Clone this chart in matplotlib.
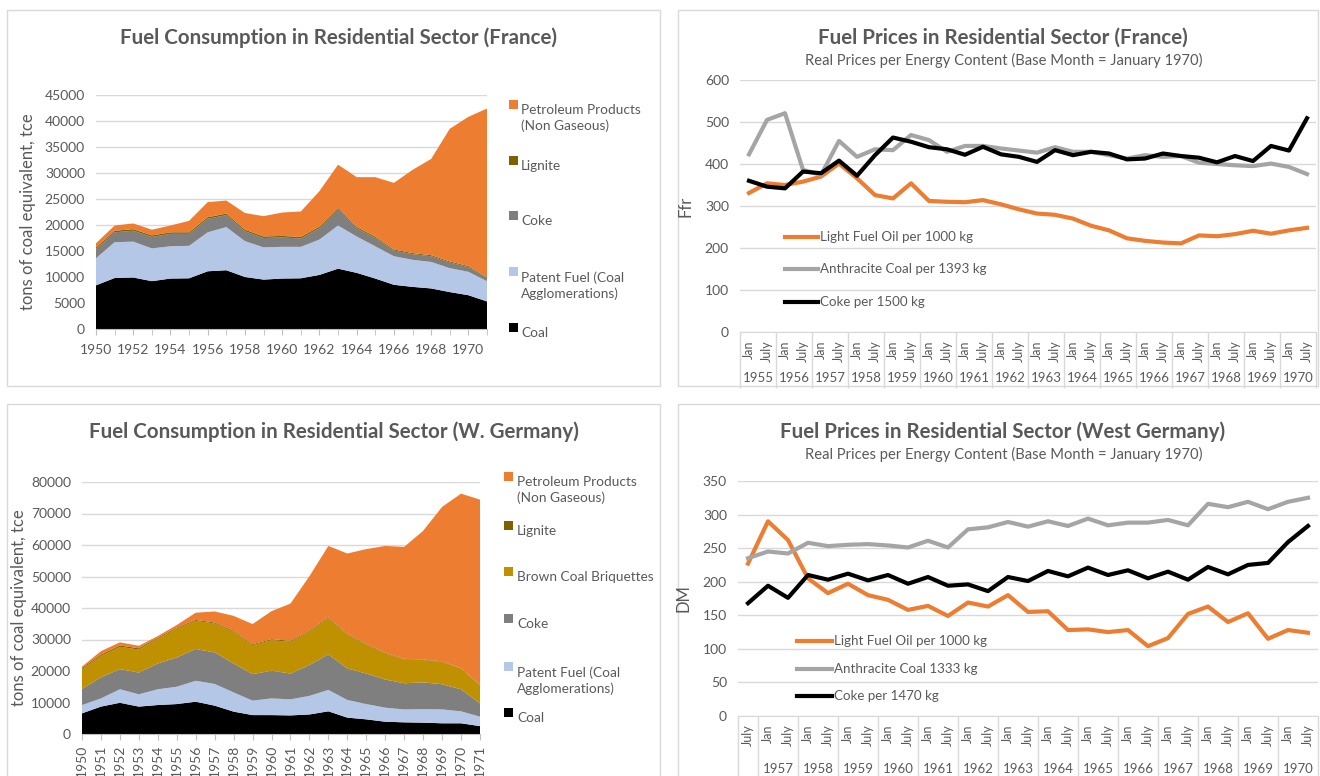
import numpy as np
import matplotlib
matplotlib.use('Agg')
import matplotlib.pyplot as plt
from matplotlib.patches import Rectangle
from matplotlib.lines import Line2D

plt.rcParams['font.family'] = ['Lato', 'DejaVu Sans']

# ---- data: fuel consumption (tce) ----
years = list(range(1950, 1972))

fr_coal = [8400, 9800, 9900, 9200, 9700, 9750, 11100, 11300, 10000, 9500, 9700,
           9750, 10400, 11600, 10800, 9700, 8500, 8100, 7800, 7100, 6500, 5300]
fr_patent = [5200, 6900, 6900, 6300, 6200, 6250, 7500, 8300, 6900, 6200, 6100,
             6050, 6800, 8300, 7000, 6200, 5500, 5200, 5100, 4600, 4500, 3900]
fr_coke = [1800, 1900, 2100, 2200, 2400, 2300, 2600, 2300, 1900, 1800, 1800,
           1600, 2200, 3100, 1600, 1600, 1100, 1100, 1100, 1100, 900, 600]
fr_lignite = [300, 300, 300, 300, 300, 300, 300, 300, 300, 300, 300,
              300, 300, 300, 250, 250, 200, 200, 200, 200, 200, 150]
fr_petrol = [800, 1000, 1100, 1100, 1300, 2200, 2900, 2500, 3200, 3900, 4500,
             4900, 6800, 8300, 9550, 11450, 12800, 16000, 18500, 25500, 28700, 32450]

de_coal = [6550, 8700, 9900, 8700, 9200, 9500, 10250, 9000, 7100, 6000, 6000,
           5900, 6200, 7200, 5200, 4650, 3900, 3700, 3600, 3400, 3400, 2500]
de_patent = [2650, 2600, 4300, 3900, 5000, 5500, 6650, 6900, 6100, 4600, 5300,
             5100, 5900, 6800, 5600, 4850, 4450, 4100, 4300, 4400, 3800, 3000]
de_coke = [5100, 6700, 6400, 6900, 8200, 9300, 10100, 10000, 9200, 8400, 8800,
           8200, 9800, 11300, 10000, 9700, 8950, 8300, 8500, 8000, 7000, 4200]
de_brown = [6300, 6800, 7100, 7300, 7900, 9200, 8900, 9200, 10100, 9200, 9700,
            10100, 10600, 11400, 10800, 9200, 8300, 7600, 7100, 7100, 6600, 5800]
de_lignite = [400, 400, 400, 400, 300, 300, 300, 300, 300, 300, 300,
              300, 300, 300, 200, 200, 200, 150, 150, 150, 100, 100]
de_petrol = [400, 1100, 1000, 800, 500, 800, 2300, 3500, 4700, 6400, 8900,
             11800, 17300, 22700, 25500, 30100, 33900, 35550, 40850, 49050, 55400, 58800]

# ---- data: real prices, semi-annual ----
months = ['Jan', 'July']
fr_price_years = list(range(1955, 1971))
fr_oil = [331, 354, 350, 358, 370, 401, 366, 326, 318, 354, 312, 310, 309, 314, 304, 292,
          282, 279, 270, 253, 242, 223, 217, 213, 211, 230, 228, 233, 241, 234, 242, 248]
fr_anthracite = [423, 505, 521, 386, 374, 455, 417, 435, 433, 469, 457, 429, 443, 443, 437, 432,
                 427, 440, 429, 429, 421, 413, 421, 417, 419, 403, 400, 397, 395, 401, 393, 376]
fr_coke_price = [360, 346, 342, 382, 378, 408, 372, 421, 463, 453, 440, 435, 422, 441, 423, 417,
                 405, 433, 421, 429, 425, 411, 413, 425, 419, 415, 404, 419, 407, 443, 432, 509]

de_price_years = list(range(1957, 1971))
de_oil = [227, 290, 262, 205, 183, 197, 180, 173, 158, 164, 149, 169, 163, 180, 155,
          156, 128, 129, 125, 128, 104, 116, 152, 163, 140, 153, 115, 128, 124]
de_anthracite = [235, 245, 242, 258, 253, 255, 256, 254, 251, 261, 251, 278, 281, 289, 282,
                 290, 283, 294, 284, 288, 288, 292, 284, 316, 311, 319, 308, 319, 325]
de_coke_price = [168, 194, 176, 210, 203, 212, 202, 210, 197, 207, 194, 196, 186, 207, 201,
                 216, 208, 221, 210, 217, 205, 215, 203, 222, 211, 225, 228, 259, 283]

# ---- styling ----
C_COAL = '#000000'
C_PATENT = '#b4c7e7'
C_COKE = '#7f7f7f'
C_LIGNITE = '#7f6000'
C_BROWN = '#bf9000'
C_PETROL = '#ed7d31'
C_ANTH = '#a5a5a5'
TXT = '#595959'
GRID = '#d9d9d9'

W, H = 1320, 776
fig = plt.figure(figsize=(W / 100, H / 100), dpi=100)


def fx(x):
    return x / W


def fy(y):
    return 1 - y / H


def add_axes_px(l, t, r, b):
    return fig.add_axes([fx(l), fy(b), (r - l) / W, (b - t) / H])


def panel(l, t, r, b):
    fig.add_artist(Rectangle((fx(l), fy(b)), (r - l) / W, (b - t) / H,
                             transform=fig.transFigure, facecolor='white',
                             edgecolor=GRID, linewidth=1, zorder=0))


def style_value_axis(ax):
    for s in ['top', 'right', 'left']:
        ax.spines[s].set_visible(False)
    ax.spines['bottom'].set_color(GRID)
    ax.yaxis.grid(True, color=GRID, linewidth=1)
    ax.set_axisbelow(True)
    ax.tick_params(axis='y', length=0, labelsize=10, labelcolor=TXT, pad=8)


def area_legend(labels, colors, ys, xsq, xtxt):
    for lab, col, y in zip(labels, colors, ys):
        fig.add_artist(Rectangle((fx(xsq - 4.5), fy(y + 5)), 9 / W, 9 / H,
                                 transform=fig.transFigure, facecolor=col,
                                 edgecolor='none'))
        fig.text(fx(xtxt), fy(y), lab, fontsize=9.8, color=TXT,
                 va='top', ha='left', linespacing=1.35)


def line_legend(labels, colors, ys, x0, x1):
    for lab, col, y in zip(labels, colors, ys):
        fig.add_artist(Line2D([fx(x0), fx(x1)], [fy(y), fy(y)],
                              transform=fig.transFigure, color=col, linewidth=3))
        fig.text(fx(x1 + 2), fy(y), lab, fontsize=9.6, color=TXT,
                 va='center', ha='left')


def category_axis(ax, periods, group_years, year_y, sep_len):
    n = len(periods)
    pos = np.arange(n)
    ax.set_xlim(-0.5, n - 0.5)
    ax.set_xticks(pos)
    ax.set_xticklabels([m for (_, m) in periods], rotation=90, fontsize=9,
                       color=TXT)
    ax.tick_params(axis='x', length=0, pad=6)
    bounds = [-0.5] + [i - 0.5 for i in range(1, n) if periods[i][0] != periods[i - 1][0]] + [n - 0.5]
    ax.set_xticks(bounds, minor=True)
    ax.tick_params(axis='x', which='minor', length=sep_len, color=GRID, width=1)
    tr = matplotlib.transforms.blended_transform_factory(ax.transData, fig.transFigure)
    for yr in group_years:
        idx = [i for i, p in enumerate(periods) if p[0] == yr]
        ax.text(np.mean(idx), fy(year_y), str(yr), transform=tr, fontsize=9.5,
                color=TXT, ha='center', va='center')


# ================= top-left: France consumption =================
panel(7, 10, 660, 386)
ax1 = add_axes_px(96, 95, 487, 329)
ax1.stackplot(years, fr_coal, fr_patent, fr_coke, fr_lignite, fr_petrol,
              colors=[C_COAL, C_PATENT, C_COKE, C_LIGNITE, C_PETROL], linewidth=0)
ax1.set_xlim(1950, 1971)
ax1.set_ylim(0, 45000)
ax1.set_yticks(range(0, 45001, 5000))
style_value_axis(ax1)
ax1.spines['bottom'].set_color('#bfbfbf')
ax1.set_xticks(range(1950, 1971, 2))
ax1.set_xticks(years, minor=True)
ax1.tick_params(axis='x', which='both', length=4, color='#bfbfbf',
                labelsize=10, labelcolor=TXT, pad=7)
ax1.set_ylabel('tons of coal equivalent, tce', fontsize=12, color=TXT, labelpad=6)
fig.text(fx(338), fy(38), 'Fuel Consumption in Residential Sector (France)',
         fontsize=14.8, fontweight='bold', color=TXT, ha='center', va='center')
area_legend(['Petroleum Products\n(Non Gaseous)', 'Lignite', 'Coke',
             'Patent Fuel (Coal\nAgglomerations)', 'Coal'],
            [C_PETROL, C_LIGNITE, C_COKE, C_PATENT, C_COAL],
            [104, 160, 215, 271, 327], 513, 521)

# ================= top-right: France prices =================
panel(678, 10, 1318, 386)
ax2 = add_axes_px(740, 80, 1316, 332)
fr_periods = [(y, m) for y in fr_price_years for m in months]
x2 = np.arange(len(fr_periods))
ax2.plot(x2, fr_oil, color=C_PETROL, linewidth=3, solid_joinstyle='round')
ax2.plot(x2, fr_anthracite, color=C_ANTH, linewidth=3, solid_joinstyle='round')
ax2.plot(x2, fr_coke_price, color=C_COAL, linewidth=3, solid_joinstyle='round')
ax2.set_ylim(0, 600)
ax2.set_yticks(range(0, 601, 100))
style_value_axis(ax2)
category_axis(ax2, fr_periods, fr_price_years, 378, 40)
ax2.set_ylabel('Ffr', fontsize=12, color=TXT, labelpad=8)
fig.text(fx(1003), fy(38), 'Fuel Prices in Residential Sector (France)',
         fontsize=14.8, fontweight='bold', color=TXT, ha='center', va='center')
fig.text(fx(1004), fy(60), 'Real Prices per Energy Content (Base Month = January 1970)',
         fontsize=10.6, color=TXT, ha='center', va='center')
line_legend(['Light Fuel Oil per 1000 kg', 'Anthracite Coal per 1393 kg', 'Coke per 1500 kg'],
            [C_PETROL, C_ANTH, C_COAL], [237, 269, 302], 785, 818)

# ================= bottom-left: W. Germany consumption =================
panel(7, 404, 660, 790)
ax3 = add_axes_px(82, 482, 480, 734)
ax3.stackplot(years, de_coal, de_patent, de_coke, de_brown, de_lignite, de_petrol,
              colors=[C_COAL, C_PATENT, C_COKE, C_BROWN, C_LIGNITE, C_PETROL], linewidth=0)
ax3.set_xlim(1950, 1971)
ax3.set_ylim(0, 80000)
ax3.set_yticks(range(0, 80001, 10000))
style_value_axis(ax3)
ax3.spines['bottom'].set_color('#bfbfbf')
ax3.set_xticks(years)
ax3.tick_params(axis='x', length=4, color='#bfbfbf', labelsize=10,
                labelcolor=TXT, labelrotation=90, pad=4)
ax3.set_ylabel('tons of coal equivalent, tce', fontsize=12, color=TXT, labelpad=3)
fig.text(fx(334), fy(432), 'Fuel Consumption in Residential Sector (W. Germany)',
         fontsize=14.8, fontweight='bold', color=TXT, ha='center', va='center')
area_legend(['Petroleum Products\n(Non Gaseous)', 'Lignite', 'Brown Coal Briquettes', 'Coke',
             'Patent Fuel (Coal\nAgglomerations)', 'Coal'],
            [C_PETROL, C_LIGNITE, C_BROWN, C_COKE, C_PATENT, C_COAL],
            [476, 525, 571, 618, 666, 712], 508, 517)

# ================= bottom-right: West Germany prices =================
panel(678, 404, 1321, 790)
ax4 = add_axes_px(738, 481, 1318, 716)
de_periods = [(1956, 'July')] + [(y, m) for y in de_price_years for m in months]
x4 = np.arange(len(de_periods))
ax4.plot(x4, de_oil, color=C_PETROL, linewidth=3, solid_joinstyle='round')
ax4.plot(x4, de_anthracite, color=C_ANTH, linewidth=3, solid_joinstyle='round')
ax4.plot(x4, de_coke_price, color=C_COAL, linewidth=3, solid_joinstyle='round')
ax4.set_ylim(0, 350)
ax4.set_yticks(range(0, 351, 50))
style_value_axis(ax4)
category_axis(ax4, de_periods, de_price_years, 769, 50)
ax4.set_ylabel('DM', fontsize=12, color=TXT, labelpad=8)
fig.text(fx(1003), fy(432), 'Fuel Prices in Residential Sector (West Germany)',
         fontsize=14.8, fontweight='bold', color=TXT, ha='center', va='center')
fig.text(fx(1004), fy(454), 'Real Prices per Energy Content (Base Month = January 1970)',
         fontsize=10.6, color=TXT, ha='center', va='center')
line_legend(['Light Fuel Oil per 1000 kg', 'Anthracite Coal 1333 kg', 'Coke per 1470 kg'],
            [C_PETROL, C_ANTH, C_COAL], [641, 669, 696], 797, 832)

fig.savefig('out.png', dpi=100)
